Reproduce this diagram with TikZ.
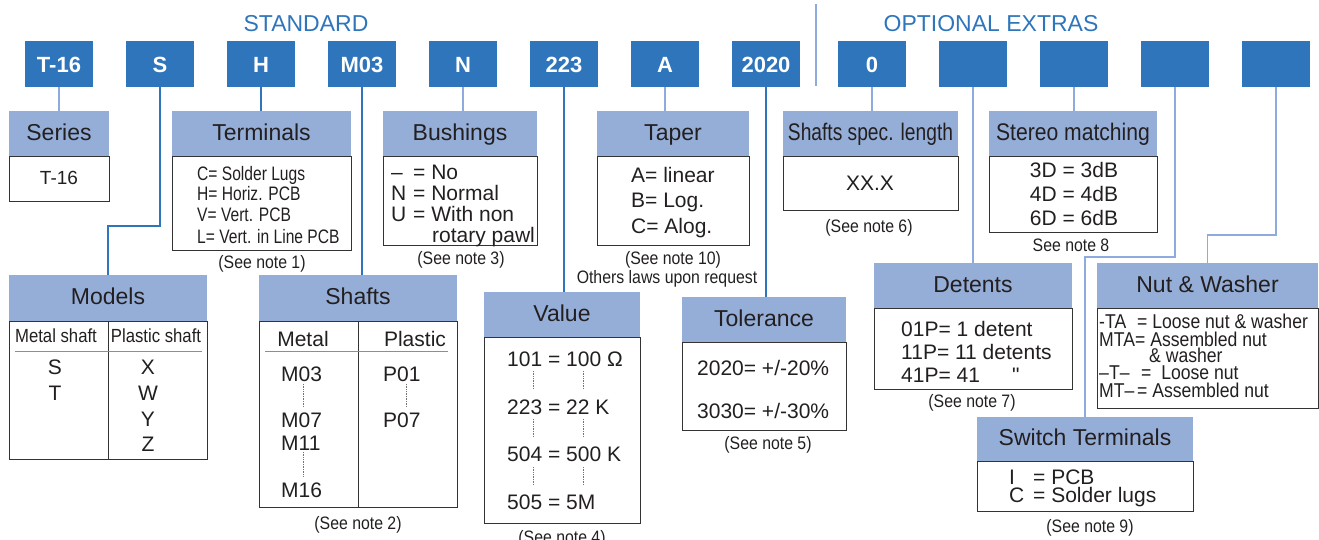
\documentclass[tikz,border=0pt]{standalone}
\usepackage{fontspec}
\setmainfont{Liberation Sans}
\newfontfamily\narrowfont[FakeStretch=0.88]{Liberation Sans}
\newfontfamily\condfont[FakeStretch=0.80]{Liberation Sans}
\usetikzlibrary{positioning}
\newcommand{\key}[2]{\makebox[#1][l]{#2}}
\definecolor{codeblue}{RGB}{46,117,187}
\definecolor{hdrblue}{RGB}{149,174,216}
\definecolor{liteblue}{RGB}{143,170,220}
\definecolor{ruleblue}{RGB}{91,155,213}
\definecolor{ink}{RGB}{35,31,32}

\begin{document}
\begin{tikzpicture}[%
  x=1pt,y=-1pt,node distance=33pt,%
  title/.style={text=codeblue,inner sep=0pt,font=\fontsize{23}{23}\selectfont},%
  code/.style={fill=codeblue,text=white,minimum width=68pt,minimum height=46pt,inner sep=0pt,outer sep=0pt,%
    text height=16pt,text depth=0pt,font=\bfseries\fontsize{22}{22}\selectfont},%
  hdr/.style={fill=hdrblue,text=ink,minimum height=45pt,inner sep=0pt,outer sep=0pt,%
    text height=16.5pt,text depth=3pt,font=\fontsize{23}{23}\selectfont},%
  body/.style={draw=black!80,line width=0.9pt,inner sep=0pt,outer sep=0pt},%
  txt/.style={text=ink,inner sep=0pt,anchor=base,yshift=-0.36*#1pt,font=\fontsize{#1}{#1}\selectfont},%
  ntxt/.style={txt=#1,font=\narrowfont\fontsize{#1}{#1}\selectfont},%
  ctxt/.style={txt=#1,font=\condfont\fontsize{#1}{#1}\selectfont},%
  lite/.style={draw=liteblue,line width=1.4pt},%
  dark/.style={draw=codeblue,line width=1.4pt},%
  uline/.style={draw=ruleblue,line width=1pt},%
  dots/.style={draw=black!55,line width=0.7pt,densely dotted}%
  ]
  \useasboundingbox (0,0) rectangle (1319,539);
  \node[title] (std) at (306,24) {STANDARD};
  \node[title] (opt) at (991,24) {OPTIONAL EXTRAS};
  \draw[lite] (816,4) -- (816,86);
%
  \node[code] (c-ser) at (59,64) {T-16};
  \node[code,right=of c-ser] (c-mod) {S};
  \node[code,right=of c-mod] (c-ter) {H};
  \node[code,right=of c-ter] (c-sha) {M03};
  \node[code,right=of c-sha] (c-bus) {N};
  \node[code,right=of c-bus] (c-val) {223};
  \node[code,right=of c-val] (c-tap) {A};
  \node[code,right=of c-tap] (c-tol) {2020};
  \node[code,right=38pt of c-tol] (c-len) {0};
  \node[code,right=of c-len] (c-det) {};
  \node[code,right=of c-det] (c-ste) {};
  \node[code,right=of c-ste] (c-swi) {};
  \node[code,right=of c-swi] (c-nut) {};
%
  % Series
  \node[hdr,minimum width=100pt] (ser) at (59,133.5) {Series};
  \node[body,minimum width=100pt,minimum height=45pt,below=0pt of ser] (ser-b) {};
  \node[txt=19] (ser-1) at (59,178) {T-16};
%
  % Terminals
  \node[hdr,minimum width=179pt] (ter) at (261.5,133.5) {Terminals};
  \node[body,minimum width=179pt,minimum height=94pt,below=0pt of ter] (ter-b) {};
  \node[ctxt=19.5,anchor=base west] (ter-1) at (197,173) {C= Solder Lugs};
  \node[ctxt=19.5,anchor=base west] (ter-2) at (197,193) {H= Horiz. PCB};
  \node[ctxt=19.5,anchor=base west] (ter-3) at (197,214) {V= Vert. PCB};
  \node[ctxt=19.5,anchor=base west] (ter-4) at (197,236) {L= Vert. in Line PCB};
  \node[ntxt=18] (ter-n) at (262,262) {(See note 1)};
%
  % Bushings
  \node[hdr,minimum width=154pt] (bus) at (460,133.5) {Bushings};
  \node[body,minimum width=154pt,minimum height=89pt,below=0pt of bus] (bus-b) {};
  \node[txt=21,anchor=base west] (bus-1) at (391,172) {\key{22pt}{–}= No};
  \node[txt=21,anchor=base west] (bus-2) at (391,193) {\key{22pt}{N}= Normal};
  \node[txt=21,anchor=base west] (bus-3) at (391,214) {\key{22pt}{U}= With non};
  \node[txt=21,anchor=base west] (bus-4) at (432,235) {rotary pawl};
  \node[ntxt=18] (bus-n) at (461,258) {(See note 3)};
%
  % Taper
  \node[hdr,minimum width=152pt] (tap) at (673,133.5) {Taper};
  \node[body,minimum width=152pt,minimum height=89pt,below=0pt of tap] (tap-b) {};
  \node[txt=21,anchor=base west] (tap-1) at (631,175) {A= linear};
  \node[txt=21,anchor=base west] (tap-2) at (631,200) {B= Log.};
  \node[txt=21,anchor=base west] (tap-3) at (631,226) {C= Alog.};
  \node[ntxt=18] (tap-n) at (673,258) {(See note 10)};
  \node[ntxt=18] (tap-o) at (667,277) {Others laws upon request};
%
  % Shafts spec. length
  \node[hdr,minimum width=175pt,font=\condfont\fontsize{24}{24}\selectfont] (len) at (870.5,133.5) {Shafts spec. length};
  \node[body,minimum width=175pt,minimum height=54pt,below=0pt of len] (len-b) {};
  \node[txt=21] (len-1) at (870,183) {XX.X};
  \node[ntxt=18] (len-n) at (869,226) {(See note 6)};
%
  % Stereo matching
  \node[hdr,minimum width=168pt,font=\narrowfont\fontsize{24}{24}\selectfont] (ste) at (1073,133.5) {Stereo matching};
  \node[body,minimum width=168pt,minimum height=76pt,below=0pt of ste] (ste-b) {};
  \node[txt=21] (ste-1) at (1074,170) {3D = 3dB};
  \node[txt=21] (ste-2) at (1074,194) {4D = 4dB};
  \node[txt=21] (ste-3) at (1074,218) {6D = 6dB};
  \node[ntxt=18] (ste-n) at (1071,245) {See note 8};
%
  % Models
  \node[hdr,minimum width=198pt,minimum height=46pt] (mod) at (108,298) {Models};
  \node[body,minimum width=198pt,minimum height=138pt,below=0pt of mod] (mod-b) {};
  \draw[body] (mod-b.north) -- (mod-b.south);
  \node[ntxt=19] (mod-h1) at (56,336) {Metal shaft};
  \node[ntxt=19] (mod-h2) at (156,336) {Plastic shaft};
  \draw[uline] (15,351) -- (202,351);
  \node[txt=21] (mod-s) at (55,367) {S};
  \node[txt=21] (mod-t) at (55,393) {T};
  \node[txt=21] (mod-x) at (148,367) {X};
  \node[txt=21] (mod-w) at (148,393) {W};
  \node[txt=21] (mod-y) at (148,419) {Y};
  \node[txt=21] (mod-z) at (148,444) {Z};
%
  % Shafts
  \node[hdr,minimum width=198pt,minimum height=46pt] (sha) at (358,298) {Shafts};
  \node[body,minimum width=198pt,minimum height=186pt,below=0pt of sha] (sha-b) {};
  \draw[body] (sha-b.north) -- (sha-b.south);
  \node[txt=21] (sha-h1) at (303,339) {Metal};
  \node[txt=21] (sha-h2) at (415,339) {Plastic};
  \draw[uline] (265,351) -- (448,351);
  \node[txt=21,anchor=base west] (sha-1) at (281,374) {M03};
  \node[txt=21,anchor=base west] (sha-2) at (281,420) {M07};
  \node[txt=21,anchor=base west] (sha-3) at (281,443) {M11};
  \node[txt=21,anchor=base west] (sha-4) at (281,490) {M16};
  \node[txt=21,anchor=base west] (sha-5) at (383,374) {P01};
  \node[txt=21,anchor=base west] (sha-6) at (383,420) {P07};
  \draw[dots] (303,384) -- (303,407) (303,452) -- (303,477) (406,384) -- (406,407);
  \node[ntxt=18] (sha-n) at (358,523) {(See note 2)};
%
  % Value
  \node[hdr,minimum width=156pt] (val) at (562,314.5) {Value};
  \node[body,minimum width=156pt,minimum height=186pt,below=0pt of val] (val-b) {};
  \node[txt=21,anchor=base west] (val-1) at (507,359) {101 = 100 Ω};
  \node[txt=21,anchor=base west] (val-2) at (507,407) {223 = 22 K};
  \node[txt=21,anchor=base west] (val-3) at (507,454) {504 = 500 K};
  \node[txt=21,anchor=base west] (val-4) at (507,502) {505 = 5M};
  \foreach \y in {371,419,467}
    \draw[dots] (533,\y) -- ++(0,18) (583,\y) -- ++(0,18);
  \node[ntxt=18] (val-n) at (562,537) {(See note 4)};
%
  % Tolerance
  \node[hdr,minimum width=164pt] (tol) at (764,319.5) {Tolerance};
  \node[body,minimum width=164pt,minimum height=88pt,below=0pt of tol] (tol-b) {};
  \node[txt=21,anchor=base west] (tol-1) at (697,368) {2020= +/-20\%};
  \node[txt=21,anchor=base west] (tol-2) at (697,411) {3030= +/-30\%};
  \node[ntxt=18] (tol-n) at (768,443) {(See note 5)};
%
  % Detents
  \node[hdr,minimum width=198pt] (det) at (973,285.5) {Detents};
  \node[body,minimum width=198pt,minimum height=81pt,below=0pt of det] (det-b) {};
  \node[txt=21,anchor=base west] (det-1) at (901,329) {01P= 1 detent};
  \node[txt=21,anchor=base west] (det-2) at (901,352) {11P= 11 detents};
  \node[txt=21,anchor=base west] (det-3) at (901,375) {\key{111pt}{41P= 41}\textquotedbl};
  \node[ntxt=18] (det-n) at (972,401) {(See note 7)};
%
  % Nut & Washer
  \node[hdr,minimum width=221pt] (nut) at (1207.5,285.5) {Nut \& Washer};
  \node[body,minimum width=221pt,minimum height=100pt,below=0pt of nut] (nut-b) {};
  \node[ntxt=20,anchor=base west] (nut-1) at (1099,321) {\key{38pt}{-TA}= Loose nut \& washer};
  \node[ntxt=20,anchor=base west] (nut-2) at (1099,339) {\key{36pt}{MTA}= Assembled nut};
  \node[ntxt=20,anchor=base west] (nut-3) at (1149,355) {\& washer};
  \node[ntxt=20,anchor=base west] (nut-4) at (1099,372) {\key{42pt}{–T–}= \ Loose nut};
  \node[ntxt=20,anchor=base west] (nut-5) at (1099,390) {\key{38pt}{MT–}= Assembled nut};
%
  % Switch Terminals
  \node[hdr,minimum width=216pt,minimum height=44pt] (swi) at (1085,439) {Switch Terminals};
  \node[body,minimum width=216pt,minimum height=50pt,below=0pt of swi] (swi-b) {};
  \node[txt=21,anchor=base west] (swi-1) at (1009,477) {\key{24pt}{I}= PCB};
  \node[txt=21,anchor=base west] (swi-2) at (1009,495) {\key{24pt}{C}= Solder lugs};
  \node[ntxt=18] (swi-n) at (1090,526) {(See note 9)};
%
  \coordinate (mod-bend) at (108,226);
  \coordinate (swi-bend) at (1085,257);
  \coordinate (nut-bend) at (1207.5,235);
%
  \draw[lite] (c-ser.south) -- (ser.north);
  \draw[dark] (c-mod.south) |- (mod-bend) -- (mod.north);
  \draw[dark] (c-ter.south) -- (c-ter.south |- ter.north);
  \draw[dark] (c-sha.south) -- (c-sha.south |- sha.north);
  \draw[lite] (c-bus.south) -- (c-bus.south |- bus.north);
  \draw[dark] (c-val.south) -- (c-val.south |- val.north);
  \draw[lite] (c-tap.south) -- (c-tap.south |- tap.north);
  \draw[dark] (c-tol.south) -- (c-tol.south |- tol.north);
  \draw[lite] (c-len.south) -- (c-len.south |- len.north);
  \draw[lite] (c-det.south) -- (c-det.south |- det.north);
  \draw[lite] (c-ste.south) -- (c-ste.south |- ste.north);
  \draw[lite] (c-swi.south) |- (swi-bend) -- (swi.north);
  \draw[lite] (c-nut.south) |- (nut-bend) -- (nut.north);
%
\end{tikzpicture}
\end{document}
